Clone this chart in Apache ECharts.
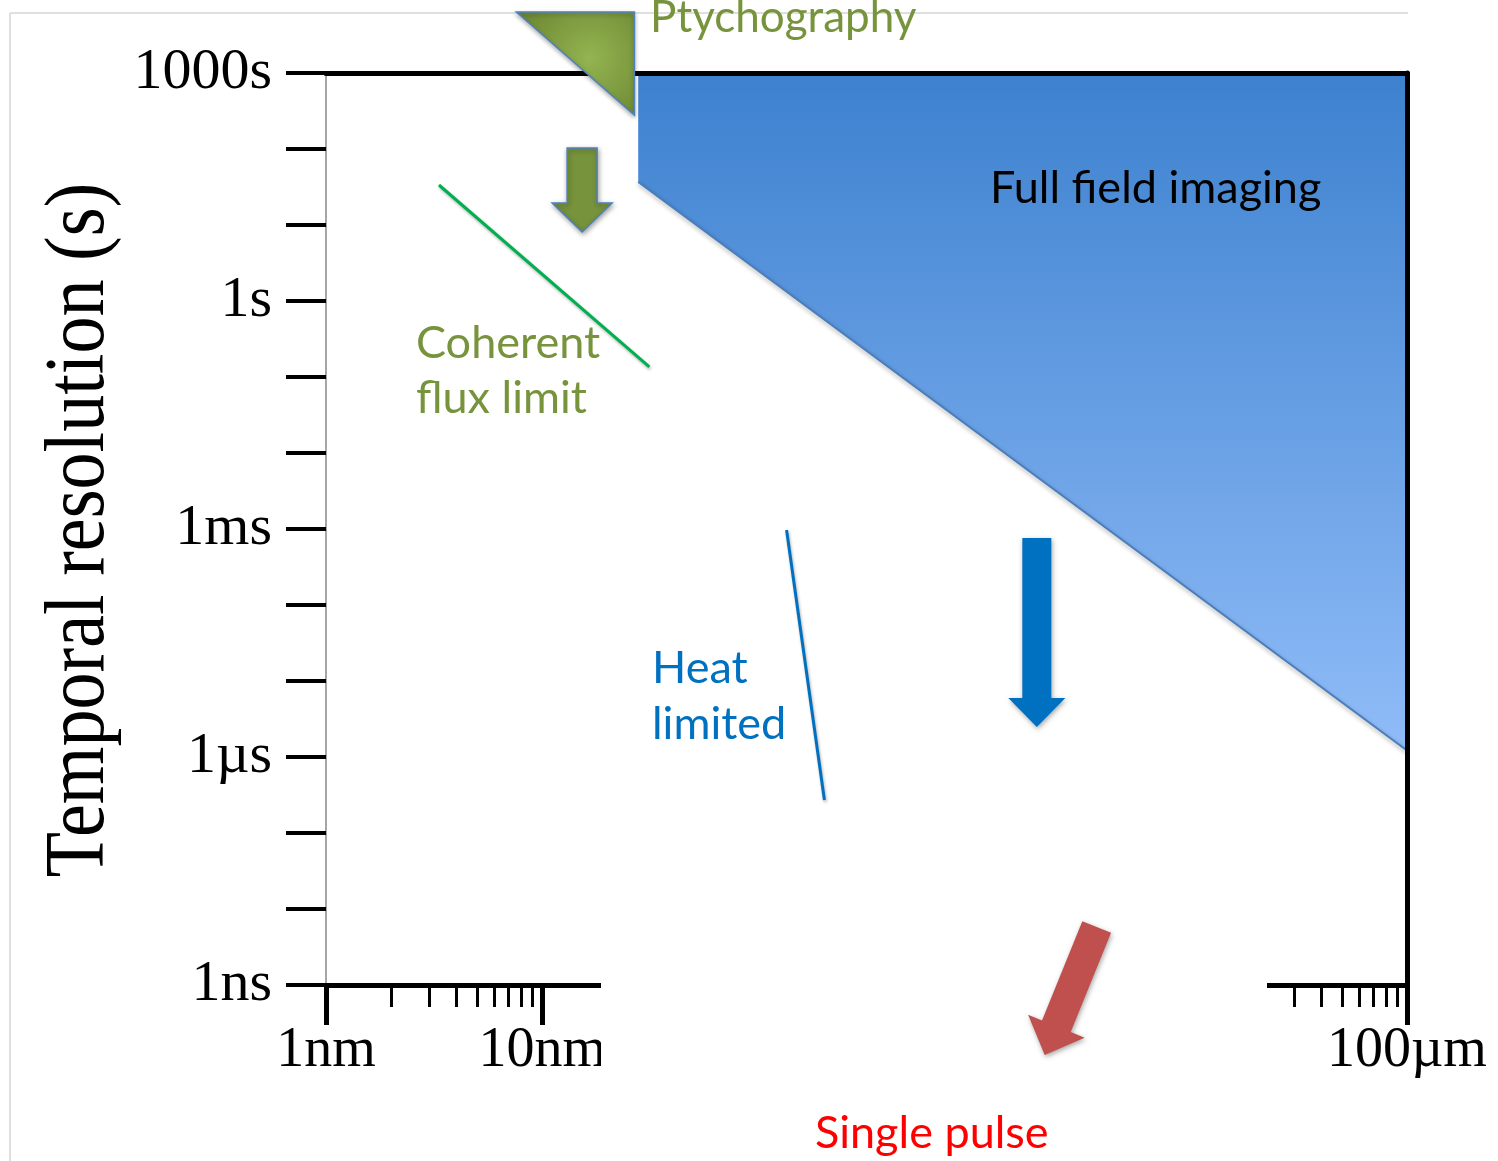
<!DOCTYPE html>
<html>
<head>
<meta charset="utf-8">
<script src="https://cdn.jsdelivr.net/npm/echarts@6/dist/echarts.min.js"></script>
<style>html,body{margin:0;padding:0;background:#fff}#c{width:1498px;height:1161px}</style>
</head>
<body>
<div id="c"></div>
<script>
// ---------- axis ticks and labels ----------
const xMajorTicks = [1e-9, 1e-8, 1e-7, 1e-6, 1e-5, 1e-4];
const xMinorTicks = [2e-9, 3e-9, 4e-9, 5e-9, 6e-9, 7e-9, 8e-9, 9e-9,
                     2e-8, 3e-8, 4e-8, 5e-8, 6e-8, 7e-8, 8e-8, 9e-8,
                     2e-7, 3e-7, 4e-7, 5e-7, 6e-7, 7e-7, 8e-7, 9e-7,
                     2e-6, 3e-6, 4e-6, 5e-6, 6e-6, 7e-6, 8e-6, 9e-6,
                     2e-5, 3e-5, 4e-5, 5e-5, 6e-5, 7e-5, 8e-5, 9e-5];
const xLabelTicks = [1e-9, 1e-8, 1e-4];
const xLabelTexts = ['1nm', '10nm', '100\u00b5m'];
const yTicks = [1e-9, 1e-8, 1e-7, 1e-6, 1e-5, 1e-4, 1e-3, 1e-2, 1e-1, 1, 1e1, 1e2, 1e3];
const yLabelTicks = [1e-9, 1e-6, 1e-3, 1, 1e3];
const yLabelTexts = ['1ns', '1\u00b5s', '1ms', '1s', '1000s'];

// ---------- regions / lines / arrows (x in metres, y in seconds) ----------
const fullFieldX = [2.78e-8, 1e-4];
const fullFieldY = [36.8, 1.22e-6];
const coherentX = [3.33e-9, 3.13e-8];
const coherentY = [33.6, 0.1355];
const heatX = [1.35e-7, 2.02e-7];
const heatY = [9.7e-4, 2.72e-7];
const ptychoX = [7.6e-9, 2.67e-8, 2.67e-8];
const ptychoY = [6350, 6350, 280];
const ptychoArrowX = [1.53e-8, 1.53e-8];      // tail, tip
const ptychoArrowY = [103, 8.09];
const fullFieldArrowX = [1.94e-6, 1.94e-6];
const fullFieldArrowY = [7.62e-4, 2.48e-6];
const pulseArrowX = [3.67e-6, 2.11e-6];
const pulseArrowY = [5.8e-9, 1.2e-10];

const serif = '"Liberation Serif", "Times New Roman", serif';
const sans = 'Lato, "Open Sans", sans-serif';

function labelMap(ticks, texts) {
  const m = {};
  ticks.forEach((v, i) => { m[Math.round(Math.log10(v))] = texts[i]; });
  return v => m[Math.round(Math.log10(v))] || '';
}
const pairs = (xs, ys) => xs.map((x, i) => [x, ys[i]]);

function arrowSeries(name, xs, ys, fill, stroke, shaftW, headW, headL, z) {
  return {
    type: 'custom', name: name, z: z, clip: false, silent: true,
    xAxisIndex: 0, yAxisIndex: 0,
    data: [[xs[0], ys[0], xs[1], ys[1]]],
    renderItem: function (params, api) {
      const p0 = api.coord([api.value(0), api.value(1)]);
      const p1 = api.coord([api.value(2), api.value(3)]);
      const dx = p1[0] - p0[0], dy = p1[1] - p0[1];
      const len = Math.sqrt(dx * dx + dy * dy);
      const ux = dx / len, uy = dy / len;
      const nx = -uy, ny = ux;
      const bx = p1[0] - ux * headL, by = p1[1] - uy * headL;
      const pts = [
        [p0[0] + nx * shaftW / 2, p0[1] + ny * shaftW / 2],
        [bx + nx * shaftW / 2, by + ny * shaftW / 2],
        [bx + nx * headW / 2, by + ny * headW / 2],
        [p1[0], p1[1]],
        [bx - nx * headW / 2, by - ny * headW / 2],
        [bx - nx * shaftW / 2, by - ny * shaftW / 2],
        [p0[0] - nx * shaftW / 2, p0[1] - ny * shaftW / 2]
      ];
      return {
        type: 'polygon', shape: { points: pts },
        style: {
          fill: fill, stroke: stroke || null, lineWidth: stroke ? 1.5 : 0,
          shadowBlur: 5, shadowColor: 'rgba(0,0,0,0.35)', shadowOffsetX: 1, shadowOffsetY: 2
        }
      };
    }
  };
}

const chart = echarts.init(document.getElementById('c'), null, { renderer: 'canvas' });

const option = {
  animation: false,
  backgroundColor: '#ffffff',
  grid: { left: 326, right: 91, top: 73, bottom: 176, containLabel: false, outerBoundsMode: 'none' },
  xAxis: [
    {
      type: 'log', min: 1e-9, max: 1e-4, position: 'bottom', z: 5,
      axisLine: { show: true, onZero: false, lineStyle: { color: '#000', width: 5 } },
      axisTick: { show: true, customValues: xMajorTicks, length: 40, lineStyle: { color: '#000', width: 5 } },
      axisLabel: {
        show: true, customValues: xLabelTicks, formatter: labelMap(xLabelTicks, xLabelTexts),
        margin: 38, fontFamily: serif, fontSize: 56, color: '#000', showMinLabel: true, showMaxLabel: true
      },
      splitLine: { show: false }
    },
    {
      type: 'log', min: 1e-9, max: 1e-4, position: 'bottom', z: 5,
      axisLine: { show: false, onZero: false },
      axisTick: { show: true, customValues: xMinorTicks, length: 22, lineStyle: { color: '#000', width: 3 } },
      axisLabel: { show: false },
      splitLine: { show: false }
    },
    {
      type: 'log', min: 1e-9, max: 1e-4, position: 'top', z: 5,
      axisLine: { show: true, onZero: false, lineStyle: { color: '#000', width: 5 } },
      axisTick: { show: false }, axisLabel: { show: false }, splitLine: { show: false }
    }
  ],
  yAxis: [
    {
      type: 'log', min: 1e-9, max: 1e3, position: 'left', z: 5,
      axisLine: { show: true, onZero: false, lineStyle: { color: '#a6a6a6', width: 2 } },
      axisTick: { show: true, customValues: yTicks, length: 40, lineStyle: { color: '#000', width: 4 } },
      axisLabel: {
        show: true, customValues: yLabelTicks, formatter: labelMap(yLabelTicks, yLabelTexts),
        margin: 54, fontFamily: serif, fontSize: 58, color: '#000', showMinLabel: true, showMaxLabel: true
      },
      splitLine: { show: false }
    },
    {
      type: 'log', min: 1e-9, max: 1e3, position: 'right', z: 5,
      axisLine: { show: true, onZero: false, lineStyle: { color: '#000', width: 5 } },
      axisTick: { show: false }, axisLabel: { show: false }, splitLine: { show: false }
    }
  ],
  series: [
    {
      type: 'line', name: 'Full field imaging', xAxisIndex: 0, yAxisIndex: 0, z: 1,
      data: pairs(fullFieldX, fullFieldY), symbol: 'none', silent: true,
      lineStyle: { color: '#4a7ebb', width: 2, shadowColor: 'rgba(0,0,0,0.4)', shadowBlur: 4, shadowOffsetY: 2 },
      areaStyle: {
        origin: 'end', opacity: 1,
        color: new echarts.graphic.LinearGradient(0, 0, 0, 1, [
          { offset: 0, color: '#3d81cf' },
          { offset: 1, color: '#90bcf8' }
        ])
      }
    },
    {
      type: 'line', name: 'Coherent flux limit', xAxisIndex: 0, yAxisIndex: 0, z: 3,
      data: pairs(coherentX, coherentY), symbol: 'none', silent: true,
      lineStyle: { color: '#00b050', width: 3, shadowColor: 'rgba(0,0,0,0.3)', shadowBlur: 3, shadowOffsetX: 1, shadowOffsetY: 2 }
    },
    {
      type: 'line', name: 'Heat limited', xAxisIndex: 0, yAxisIndex: 0, z: 3,
      data: pairs(heatX, heatY), symbol: 'none', silent: true,
      lineStyle: { color: '#0070c0', width: 3, shadowColor: 'rgba(0,0,0,0.3)', shadowBlur: 3, shadowOffsetX: 1, shadowOffsetY: 2 }
    },
    {
      type: 'custom', name: 'Ptychography', z: 10, clip: false, silent: true,
      xAxisIndex: 0, yAxisIndex: 0,
      data: [[0]],
      renderItem: function (params, api) {
        const pts = ptychoX.map((x, i) => api.coord([x, ptychoY[i]]));
        return {
          type: 'polygon', shape: { points: pts },
          style: {
            fill: new echarts.graphic.RadialGradient(0.62, 0.45, 0.7, [
              { offset: 0, color: '#93b450' },
              { offset: 1, color: '#6f8a35' }
            ]),
            stroke: '#4f81bd', lineWidth: 1.5,
            shadowBlur: 4, shadowColor: 'rgba(0,0,0,0.3)', shadowOffsetY: 2
          }
        };
      }
    },
    arrowSeries('Ptychography arrow', ptychoArrowX, ptychoArrowY, '#77933c', '#4f81bd', 30, 60, 29, 10),
    arrowSeries('Full field arrow', fullFieldArrowX, fullFieldArrowY, '#0070c0', null, 29, 57, 29, 10),
    arrowSeries('Single pulse arrow', pulseArrowX, pulseArrowY, '#c0504d', null, 31, 61, 31, 10)
  ],
  graphic: {
    elements: [
      { type: 'line', z: 0, silent: true, shape: { x1: 10, y1: 13, x2: 1408, y2: 13 }, style: { stroke: '#d4d4d4', lineWidth: 1.5 } },
      { type: 'line', z: 0, silent: true, shape: { x1: 10, y1: 13, x2: 10, y2: 1161 }, style: { stroke: '#d4d4d4', lineWidth: 1.5 } },
      { type: 'rect', z: 6, silent: true, shape: { x: 601, y: 977, width: 666, height: 125 }, style: { fill: '#ffffff' } },
      {
        type: 'text', z: 20, x: 81, y: 530, rotation: Math.PI / 2, scaleX: 0.882, silent: true,
        style: { text: 'Temporal resolution (s)', fontFamily: serif, fontSize: 84, fill: '#000', align: 'center', verticalAlign: 'middle' }
      },
      { type: 'text', z: 20, x: 650, y: 18, silent: true, style: { text: 'Ptychography', fontFamily: sans, fontSize: 44, fill: '#77933c', align: 'left', verticalAlign: 'middle' } },
      { type: 'text', z: 20, x: 990, y: 188, silent: true, style: { text: 'Full field imaging', fontFamily: sans, fontSize: 45, fill: '#000000', align: 'left', verticalAlign: 'middle' } },
      { type: 'text', z: 20, x: 416, y: 343, silent: true, style: { text: 'Coherent', fontFamily: sans, fontSize: 45, fill: '#77933c', align: 'left', verticalAlign: 'middle' } },
      { type: 'text', z: 20, x: 416, y: 398, silent: true, style: { text: 'flux limit', fontFamily: sans, fontSize: 45, fill: '#77933c', align: 'left', verticalAlign: 'middle' } },
      { type: 'text', z: 20, x: 652, y: 668, silent: true, style: { text: 'Heat', fontFamily: sans, fontSize: 45, fill: '#0070c0', align: 'left', verticalAlign: 'middle' } },
      { type: 'text', z: 20, x: 652, y: 724, silent: true, style: { text: 'limited', fontFamily: sans, fontSize: 45, fill: '#0070c0', align: 'left', verticalAlign: 'middle' } },
      { type: 'text', z: 20, x: 815, y: 1133, silent: true, style: { text: 'Single pulse', fontFamily: sans, fontSize: 45, fill: '#ff0000', align: 'left', verticalAlign: 'middle' } }
    ]
  }
};

chart.setOption(option);
</script>
</body>
</html>
